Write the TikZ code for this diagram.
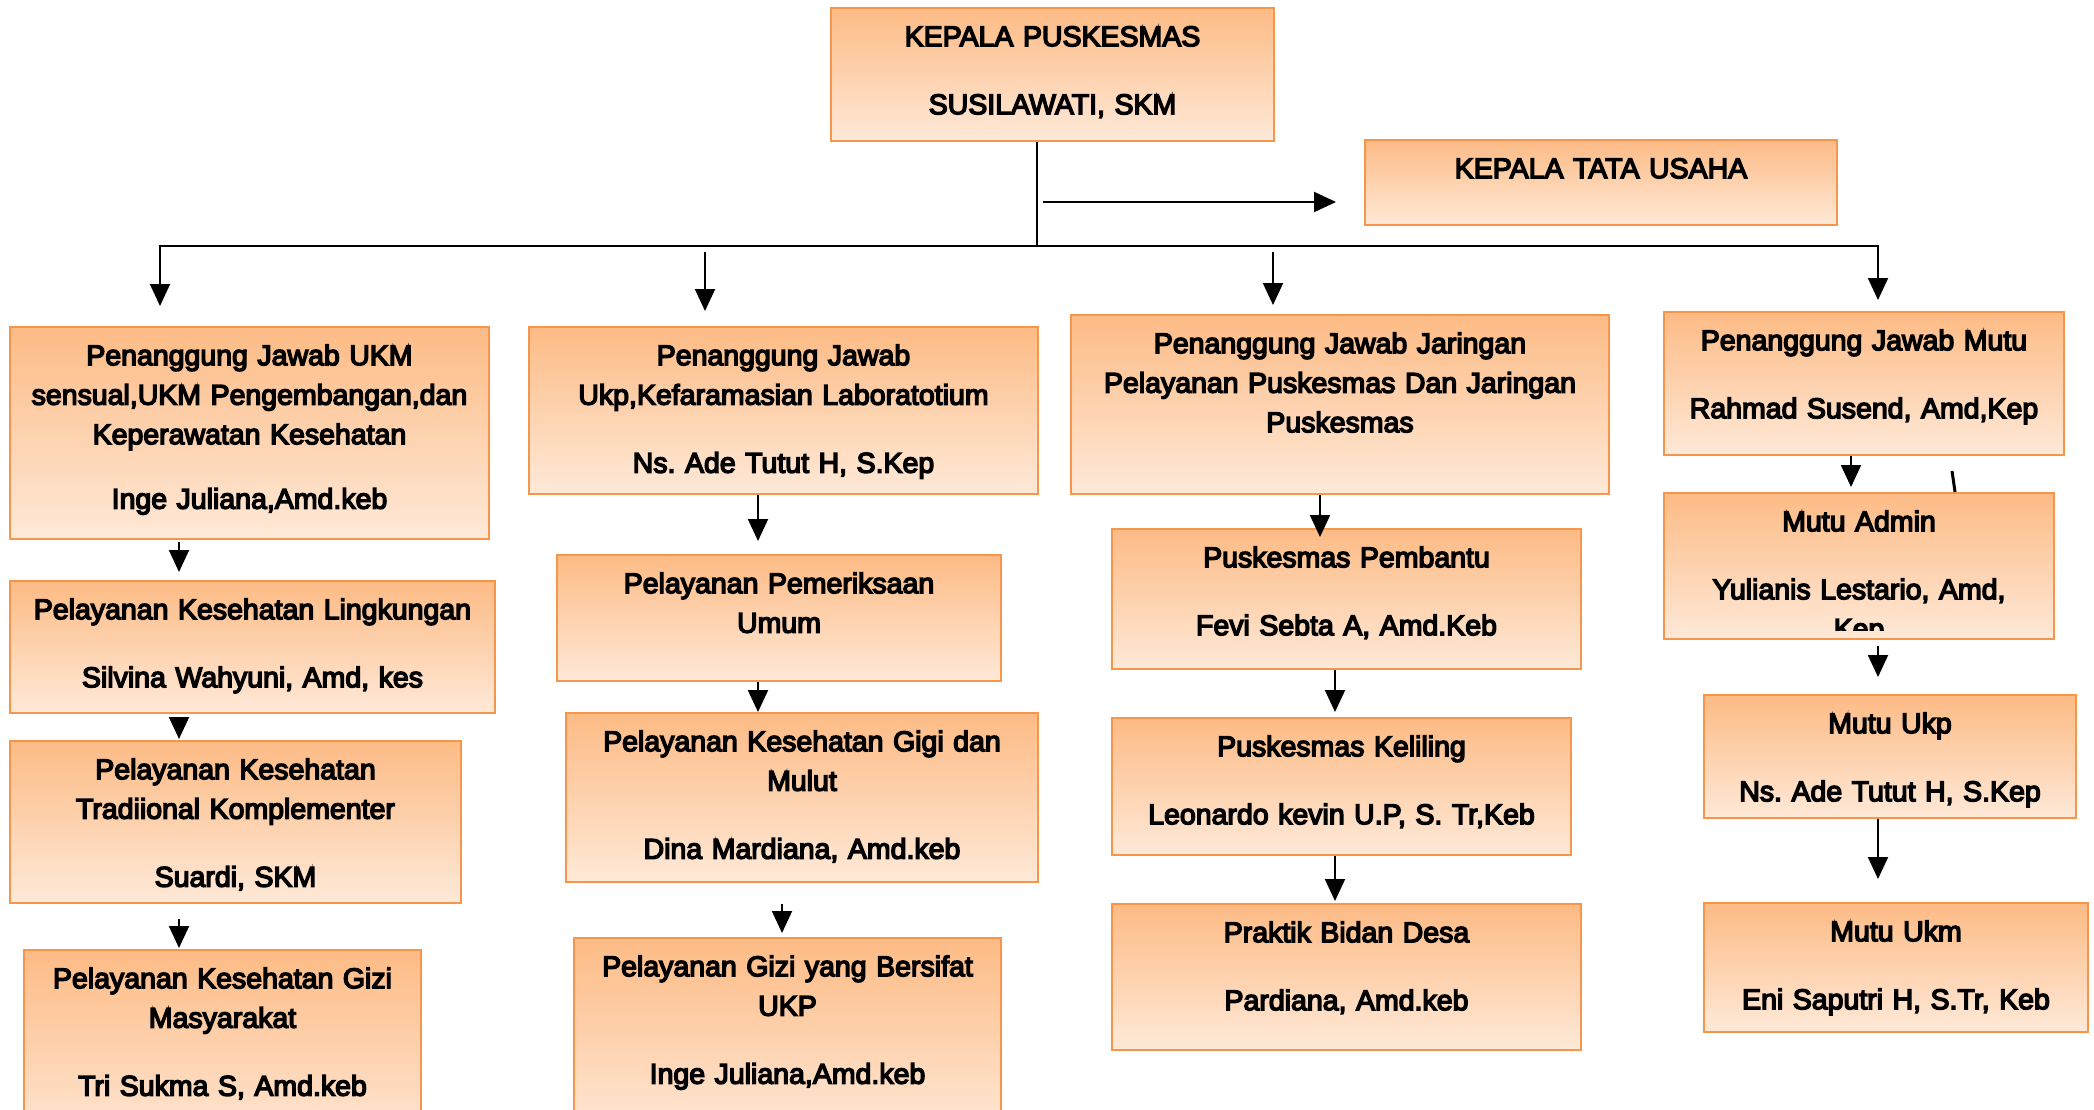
\documentclass[tikz,border=0pt]{standalone}
\usepackage{fontspec}
\setmainfont{Liberation Sans}
\font\boxfont="Liberation Sans:embolden=5" at 28.5pt
\newcommand\bxf{\boxfont\baselineskip=39.5pt\relax}
\usetikzlibrary{arrows.meta}
\definecolor{boxtop}{HTML}{FDBB85}
\definecolor{boxbot}{HTML}{FEE9D8}
\definecolor{boxline}{HTML}{F7964A}
\frenchspacing
\tikzset{
  obox/.style={draw=boxline, line width=2pt, top color=boxtop, bottom color=boxbot, inner sep=0pt, rectangle},
  otext/.style={anchor=north, inner sep=0pt, align=center, font=\bxf},
  arr/.style={line width=2pt, -{Triangle[length=22pt,width=20pt]}},
  trunk/.style={line width=2pt},
}
\newcommand\obox[6]{%
  \node[obox, minimum width=#4pt, minimum height=#5pt, anchor=north west] (#1) at (#2,-#3) {};
  \begin{scope}
    \clip ([shift={(3,-3)}]#1.north west) rectangle ([shift={(-3,10)}]#1.south east);
    \node[otext, text width=#4pt] at (#1.north) {\frenchspacing\rule{0pt}{39pt}#6};
  \end{scope}}
\begin{document}
\begin{tikzpicture}[x=1pt,y=1pt]
\useasboundingbox[fill=white] (0,0) rectangle (2094,-1110);
% boxes
\obox{K}{830}{7}{443}{133}{KEPALA PUSKESMAS\\[28.5pt]SUSILAWATI, SKM}
\obox{T}{1364}{139}{472}{85}{KEPALA TATA USAHA}
\obox{A1}{9}{326}{479}{212}{Penanggung Jawab UKM\\sensual,UKM Pengembangan,dan\\Keperawatan Kesehatan\\[25pt]Inge Juliana,Amd.keb}
\obox{A2}{9}{580}{485}{132}{Pelayanan Kesehatan Lingkungan\\[28.5pt]Silvina Wahyuni, Amd, kes}
\obox{A3}{9}{740}{451}{162}{Pelayanan Kesehatan\\Tradiional Komplementer\\[28.5pt]Suardi, SKM}
\obox{A4}{23}{949}{397}{200}{Pelayanan Kesehatan Gizi\\Masyarakat\\[28.5pt]Tri Sukma S, Amd.keb}
\obox{B1}{528}{326}{509}{167}{Penanggung Jawab\\Ukp,Kefaramasian Laboratotium\\[28.5pt]Ns. Ade Tutut H, S.Kep}
\obox{B2}{556}{554}{444}{126}{Pelayanan Pemeriksaan\\Umum}
\obox{B3}{565}{712}{472}{169}{Pelayanan Kesehatan Gigi dan\\Mulut\\[28.5pt]Dina Mardiana, Amd.keb}
\obox{B4}{573}{937}{427}{200}{Pelayanan Gizi yang Bersifat\\UKP\\[28.5pt]Inge Juliana,Amd.keb}
\obox{C1}{1070}{314}{538}{179}{Penanggung Jawab Jaringan\\Pelayanan Puskesmas Dan Jaringan\\Puskesmas}
\obox{C2}{1111}{528}{469}{140}{Puskesmas Pembantu\\[28.5pt]Fevi Sebta A, Amd.Keb}
\obox{C3}{1111}{717}{459}{137}{Puskesmas Keliling\\[28.5pt]Leonardo kevin U.P, S. Tr,Keb}
\obox{C4}{1111}{903}{469}{146}{Praktik Bidan Desa\\[28.5pt]Pardiana, Amd.keb}
\obox{D1}{1663}{311}{400}{143}{Penanggung Jawab Mutu\\[28.5pt]Rahmad Susend, Amd,Kep}
\obox{D2}{1663}{492}{390}{146}{Mutu Admin\\[28.5pt]Yulianis Lestario, Amd,\\Kep}
\obox{D3}{1703}{694}{372}{123}{Mutu Ukp\\[28.5pt]Ns. Ade Tutut H, S.Kep}
\obox{D4}{1703}{902}{384}{129}{Mutu Ukm\\[28.5pt]Eni Saputri H, S.Tr, Keb}
% coordinates
\coordinate (hub) at (1037,-246);
\coordinate (hl) at (160,-246);
\coordinate (hr) at (1878,-246);
\coordinate (h2) at (705,-252);
\coordinate (h3) at (1273,-252);
\coordinate (ta) at (1043,-202);
\coordinate (xa) at (179,0);
\coordinate (xb) at (758,0);
\coordinate (xb2) at (782,0);
\coordinate (xc1) at (1320,0);
\coordinate (xc) at (1335,0);
\coordinate (xd1) at (1851,0);
\coordinate (xd) at (1878,0);
% top connectors
\draw[trunk] (K.south -| hub) -- (hub);
\draw[line width=2.5pt] (hl) -- (hr);
\draw[arr] (ta) -- ([xshift=-28pt]T.west |- ta);
\draw[arr] ([yshift=1.25pt]hl) -- ([yshift=20pt]A1.north -| hl);
\draw[arr] (h2) -- ([yshift=15pt]B1.north -| h2);
\draw[arr] (h3) -- ([yshift=9pt]C1.north -| h3);
\draw[arr] ([yshift=1.25pt]hr) -- ([yshift=11pt]D1.north -| hr);
% column A
\draw[arr] ([yshift=-2pt]A1.south -| xa) -- ([yshift=8pt]A2.north -| xa);
\draw[arr] ([yshift=-5pt]A2.south -| xa) -- ([yshift=1pt]A3.north -| xa);
\draw[arr] ([yshift=-15pt]A3.south -| xa) -- ([yshift=1pt]A4.north -| xa);
% column B
\draw[arr] (B1.south -| xb) -- ([yshift=13pt]B2.north -| xb);
\draw[arr] (B2.south -| xb) -- (B3.north -| xb);
\draw[arr] ([yshift=-21pt]B3.south -| xb2) -- ([yshift=4pt]B4.north -| xb2);
% column C
\draw[arr] (C1.south -| xc1) -- ([yshift=-9pt]C2.north -| xc1);
\draw[arr] (C2.south -| xc) -- ([yshift=5pt]C3.north -| xc);
\draw[arr] (C3.south -| xc) -- ([yshift=2pt]C4.north -| xc);
% column D
\draw[arr] (D1.south -| xd1) -- ([yshift=5pt]D2.north -| xd1);
\draw[arr] ([yshift=-6pt]D2.south -| xd) -- ([yshift=17pt]D3.north -| xd);
\draw[arr] (D3.south -| xd) -- ([yshift=23pt]D4.north -| xd);
% stray mark above Mutu Admin
\draw[line width=3pt] (1952,-471) -- (D2.north -| 1955,0);
\end{tikzpicture}
\end{document}
